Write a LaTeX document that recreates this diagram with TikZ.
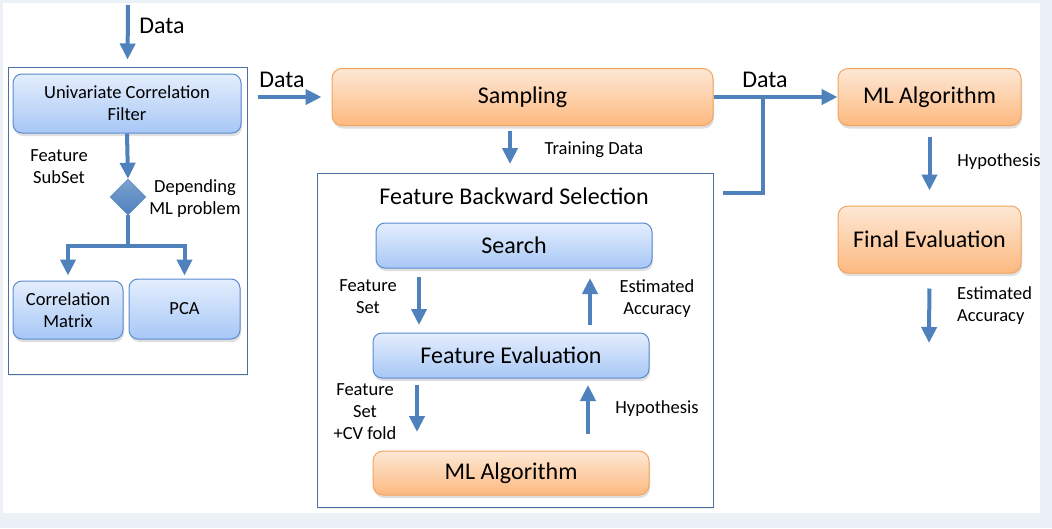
\documentclass[tikz,border=0pt]{standalone}
\usepackage{fontspec}
\setmainfont{Carlito}
\usepackage{tikz}
\usetikzlibrary{arrows.meta,shapes.geometric,shadows}

\definecolor{flowblue}{HTML}{4F81BD}
\definecolor{blueedge}{HTML}{5B8BD0}
\definecolor{bluetop}{HTML}{E4EEFD}
\definecolor{bluebot}{HTML}{A7C7F6}
\definecolor{orangeedge}{HTML}{F5A35E}
\definecolor{orangetop}{HTML}{FDE8D6}
\definecolor{orangebot}{HTML}{FDB97F}
\definecolor{frameedge}{HTML}{4D6FA6}
\definecolor{pagebg}{HTML}{ECF1F8}

\tikzset{
  bluebox/.style={draw=blueedge, line width=1pt, rounded corners=9pt, top color=bluetop, bottom color=bluebot,
    drop shadow={shadow xshift=1pt, shadow yshift=-3pt, opacity=0.25}, align=center, inner sep=0pt},
  orangebox/.style={draw=orangeedge, line width=1pt, rounded corners=10pt, top color=orangetop, bottom color=orangebot,
    drop shadow={shadow xshift=1pt, shadow yshift=-3pt, opacity=0.25}, align=center, inner sep=0pt},
  groupbox/.style={draw=frameedge, line width=1pt, fill=white, inner sep=0pt,
    drop shadow={shadow xshift=1pt, shadow yshift=-2pt, opacity=0.15}},
  flow/.style={draw=flowblue, line width=4pt, -{Triangle[width=15pt,length=16pt]}},
  link/.style={draw=flowblue, line width=4pt},
  lbl/.style={align=center, inner sep=0pt},
  bigtext/.style={font=\fontsize{24}{28}\selectfont},
  midtext/.style={font=\fontsize{18.5}{22}\selectfont},
}

\begin{document}
\begin{tikzpicture}[x=1pt,y=-1pt]
   \useasboundingbox (0,0) rectangle (1052,528);
   \fill[pagebg] (0,0) rectangle (1052,528);
   \fill[white] (3,3) rectangle (1040,513);

   \draw (127.5,220.5) node[groupbox, minimum width=239pt, minimum height=307pt] (uframe) {};
   \draw (515,340) node[groupbox, minimum width=396pt, minimum height=334pt] (fbs) {};

   \draw (127,103.5) node[bluebox, minimum width=228pt, minimum height=59pt, midtext] (filter) {Univariate Correlation\\Filter};
   \draw (128,197) node[diamond, top color=flowblue!75, bottom color=flowblue, draw=flowblue, inner sep=0pt, minimum width=36pt, minimum height=36pt] (choice) {};
   \draw (68,310) node[bluebox, minimum width=110pt, minimum height=58pt, midtext] (cormat) {Correlation\\Matrix};
   \draw (184.5,309) node[bluebox, minimum width=111pt, minimum height=60pt, midtext] (pca) {PCA};

   \draw (522.5,97) node[orangebox, minimum width=381pt, minimum height=57pt, bigtext] (sampling) {Sampling};
   \draw (514,196) node[lbl, bigtext] (fbstitle) {Feature Backward Selection};
   \draw (514,245.5) node[bluebox, minimum width=276pt, minimum height=45pt, bigtext] (search) {Search};
   \draw (511,355.5) node[bluebox, minimum width=276pt, minimum height=45pt, bigtext] (feval) {Feature Evaluation};
   \draw (511,473) node[orangebox, minimum width=276pt, minimum height=44pt, bigtext] (mlinner) {ML Algorithm};

   \draw (929.5,97) node[orangebox, minimum width=183pt, minimum height=57pt, bigtext] (mlouter) {ML Algorithm};
   \draw (929.5,239.5) node[orangebox, minimum width=183pt, minimum height=67pt, bigtext] (final) {Final Evaluation};

   \draw (162,26) node[lbl, bigtext] (datatop) {Data};
   \draw (282,80) node[lbl, bigtext] (dataleft) {Data};
   \draw (765,80) node[lbl, bigtext] (dataright) {Data};
   \draw (59,167) node[lbl, midtext] (subset) {Feature\\SubSet};
   \draw (195,199) node[lbl, midtext] (depending) {Depending\\ML problem};
   \draw (594,150) node[lbl, midtext] (training) {Training Data};
   \draw (368,297) node[lbl, midtext] (fset) {Feature\\Set};
   \draw (657,299) node[lbl, midtext] (estin) {Estimated\\Accuracy};
   \draw (365,412) node[lbl, midtext] (fsetcv) {Feature\\Set\\+CV fold};
   \draw (657,409) node[lbl, midtext] (hypin) {Hypothesis};
   \draw (999,162) node[lbl, midtext] (hypout) {Hypothesis};
   \draw (957,306) node[lbl, anchor=west, align=left, midtext] (estout) {Estimated\\Accuracy};

   \coordinate (datain) at (128,5);
   \coordinate (datafeed) at (258,97);
   \coordinate (split) at (128,246);
   \coordinate (trainfrom) at (510,131);
   \coordinate (trainto) at (510,164);
   \coordinate (fsfrom) at (419,277);
   \coordinate (fsto) at (419,325);
   \coordinate (eafrom) at (590,325);
   \coordinate (eato) at (590,278);
   \coordinate (cvfrom) at (417,385);
   \coordinate (cvto) at (417,432);
   \coordinate (hyfrom) at (588,434);
   \coordinate (hyto) at (588,385);
   \coordinate (fbsout) at (723,193);
   \coordinate (join) at (763,97);
   \coordinate (accout) at (929,343);

   \draw[flow, shorten >=7pt] (datain) -- (uframe.north);
   \draw[flow] (filter.south) -- (choice.north);
   \draw[link] (choice.south) -- (split);
   \draw[flow, shorten >=5pt] (split) -| (cormat.north);
   \draw[flow, shorten >=3pt] (split) -| (pca.north);

   \draw[flow, shorten >=10pt] (datafeed) -- (sampling.west);
   \draw[flow] (trainfrom) -- (trainto);
   \draw[flow] (fsfrom) -- (fsto);
   \draw[flow] (eafrom) -- (eato);
   \draw[flow] (cvfrom) -- (cvto);
   \draw[flow] (hyfrom) -- (hyto);

   \draw[flow] (sampling.east) -- (mlouter.west);
   \draw[link] (fbsout) -| (join);
   \draw[flow, shorten <=11pt, shorten >=15pt] (mlouter.south) -- (final.north);
   \draw[flow, shorten <=15pt] (final.south) -- (accout);

\end{tikzpicture}
\end{document}
